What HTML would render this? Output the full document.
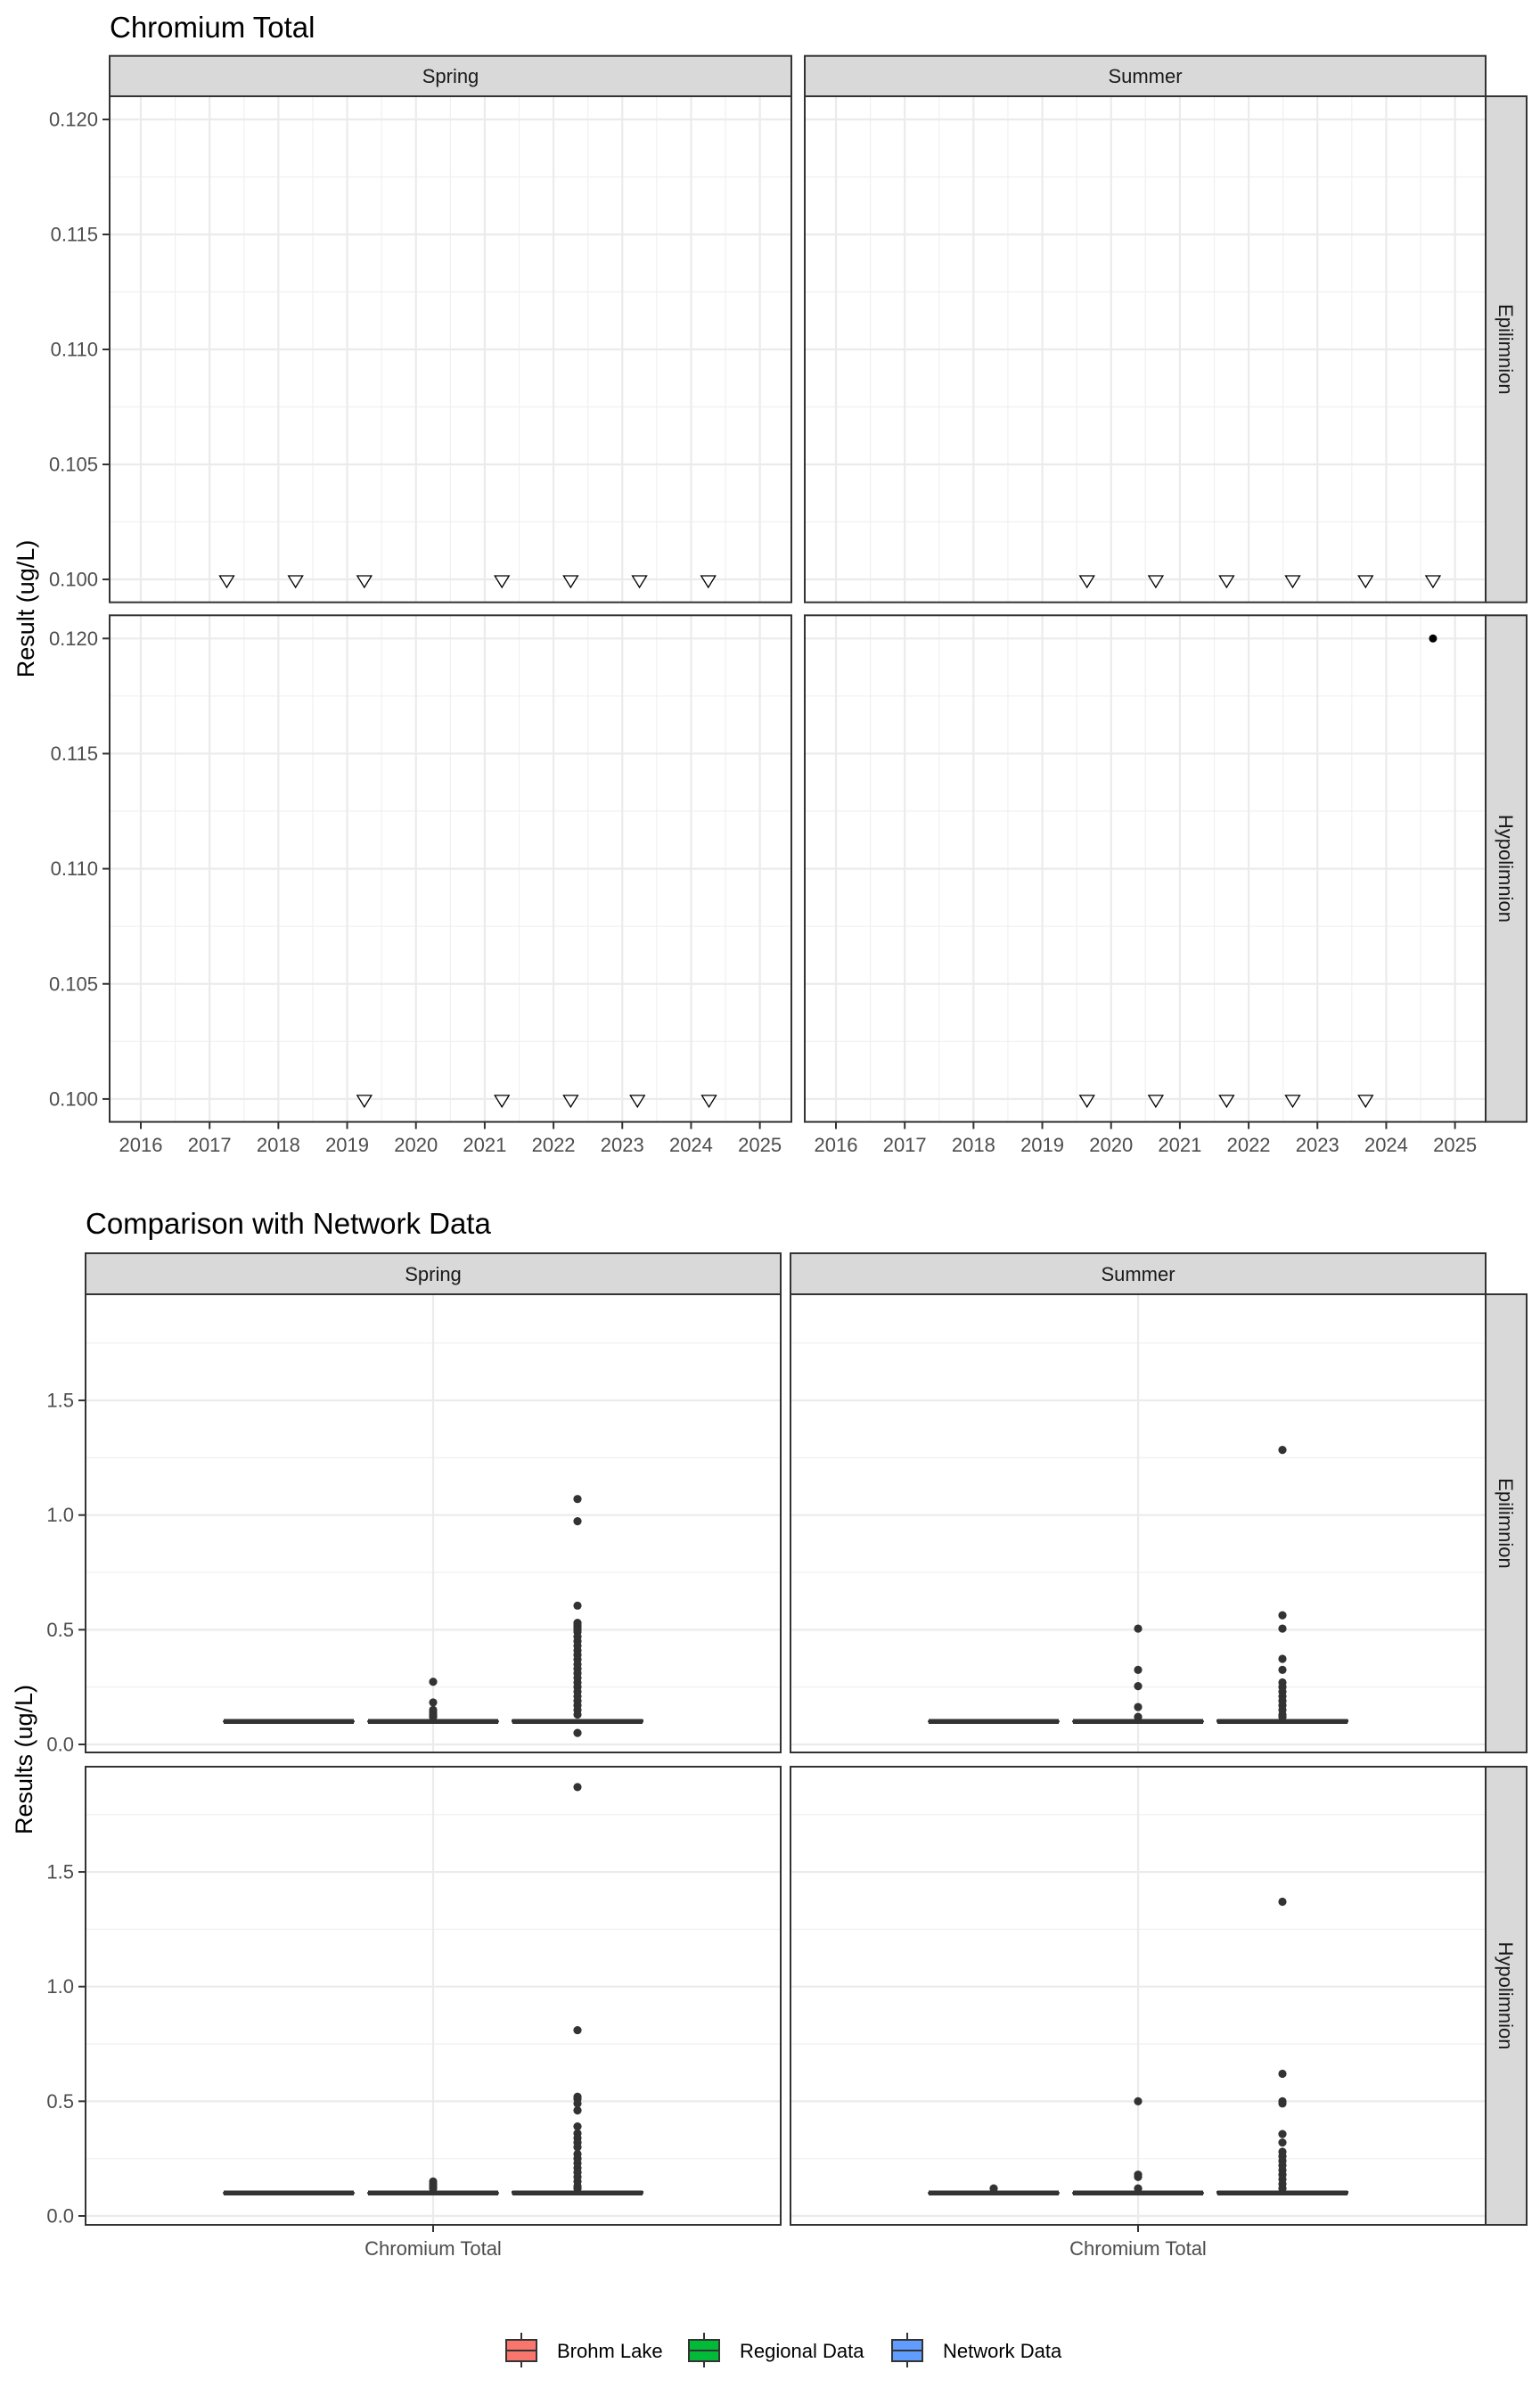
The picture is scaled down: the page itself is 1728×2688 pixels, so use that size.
<!DOCTYPE html>
<html><head><meta charset="utf-8">
<style>
html,body{margin:0;padding:0;background:#fff;}
svg{display:block;font-family:"Liberation Sans",Arial,sans-serif;}
</style></head>
<body>
<svg id="root" xmlns="http://www.w3.org/2000/svg" width="1728" height="2688" viewBox="0 0 1728 2688">
<rect x="0" y="0" width="1728" height="2688" fill="#fff"/>
<text x="123" y="42" font-size="33" fill="#000">Chromium Total</text>
<text transform="translate(38,683) rotate(-90)" text-anchor="middle" font-size="27" fill="#000">Result (ug/L)</text>
<text x="96" y="1384" font-size="33" fill="#000">Comparison with Network Data</text>
<text transform="translate(36,1974) rotate(-90)" text-anchor="middle" font-size="27" fill="#000">Results (ug/L)</text>
<g id="topg"></g>
<g id="bot"></g>
<g id="legend"></g>
</svg>
<script>
// ---------- Top chart data ----------
const yearTicks = [2016,2017,2018,2019,2020,2021,2022,2023,2024,2025];
const resultTicks = [0.100,0.105,0.110,0.115,0.120];
const resultTickLabels = ["0.100","0.105","0.110","0.115","0.120"];
const springEpiYears = [2017.25,2018.25,2019.25,2021.25,2022.25,2023.25,2024.25];
const springEpiValues = [0.1,0.1,0.1,0.1,0.1,0.1,0.1];
const summerEpiYears = [2019.65,2020.65,2021.68,2022.64,2023.70,2024.68];
const summerEpiValues = [0.1,0.1,0.1,0.1,0.1,0.1];
const springHypYears = [2019.25,2021.25,2022.25,2023.22,2024.26];
const springHypValues = [0.1,0.1,0.1,0.1,0.1];
const summerHypYears = [2019.65,2020.65,2021.68,2022.64,2023.70];
const summerHypValues = [0.1,0.1,0.1,0.1,0.1];
const summerHypDetectYears = [2024.68];
const summerHypDetectValues = [0.12];

// ---------- Bottom chart data ----------
const groups = ["Brohm Lake","Regional Data","Network Data"];
const groupColors = ["#F8766D","#00BA38","#619CFF"];
const compTicks = [0,0.5,1.0,1.5];
const compTickLabels = ["0.0","0.5","1.0","1.5"];
const boxQ1 = [0.1,0.1,0.1];
const boxMedian = [0.1,0.1,0.1];
const boxQ3 = [0.1,0.1,0.105];
const springEpiBrohm = [];
const springEpiRegional = [0.273,0.183,0.15,0.14,0.13,0.125,0.12];
const springEpiNetwork = [1.07,0.973,0.605,0.53,0.52,0.51,0.50,0.49,0.47,0.45,0.43,0.41,0.39,0.37,0.35,0.33,0.31,0.29,0.27,0.25,0.23,0.21,0.19,0.17,0.15,0.13,0.05];
const summerEpiBrohm = [];
const summerEpiRegional = [0.505,0.325,0.254,0.163,0.12];
const summerEpiNetwork = [1.284,0.563,0.505,0.373,0.325,0.27,0.25,0.23,0.21,0.19,0.17,0.15,0.13,0.12];
const springHypBrohm = [];
const springHypRegional = [0.15,0.14,0.13,0.12];
const springHypNetwork = [1.87,0.81,0.52,0.51,0.49,0.46,0.39,0.36,0.34,0.32,0.30,0.27,0.25,0.23,0.21,0.19,0.17,0.15,0.13,0.12];
const summerHypBrohm = [0.12];
const summerHypRegional = [0.50,0.18,0.17,0.12];
const summerHypNetwork = [1.37,0.62,0.50,0.49,0.357,0.32,0.28,0.26,0.24,0.22,0.20,0.18,0.16,0.14,0.12];

const NS="http://www.w3.org/2000/svg";
function mk(parent,tag,attrs,txt){const e=document.createElementNS(NS,tag);for(const k in attrs)e.setAttribute(k,attrs[k]);if(txt!==undefined)e.textContent=txt;parent.appendChild(e);return e;}

// ---------- Top chart ----------
const topChart=document.getElementById('topg');
const tCols=[{x0:123,x1:888,name:"Spring"},{x0:903,x1:1667,name:"Summer"}];
const tRows=[{y0:108,y1:675.7,name:"Epilimnion"},{y0:690.3,y1:1258.6,name:"Hypolimnion"}];
function tx(col,yr){return tCols[col].x0+35+(yr-2016)*77.18;}
function ty(row,v){const r=tRows[row];const yb=r.y1-25.7,yt=r.y0+26;return yb-(v-0.1)/(0.02)*(yb-yt);}
tCols.forEach((c,ci)=>{
  const s=mk(topChart,'rect',{x:c.x0,y:62.7,width:c.x1-c.x0,height:45.3,fill:'#d9d9d9',stroke:'#333','stroke-width':2});
  
  
  const st=mk(topChart,'text',{x:(c.x0+c.x1)/2,y:93,'text-anchor':'middle','font-size':22,fill:'#1a1a1a'},c.name);
  
  
});
tRows.forEach((r,ri)=>{
  const s=mk(topChart,'rect',{x:1667,y:r.y0,width:46,height:r.y1-r.y0,fill:'#d9d9d9',stroke:'#333','stroke-width':2});
  
  
  const cy=(r.y0+r.y1)/2;
  const st=mk(topChart,'text',{transform:`translate(1682,${cy}) rotate(90)`,'text-anchor':'middle','font-size':22,fill:'#1a1a1a'},r.name);
  
  
});
tRows.forEach((r,ri)=>{tCols.forEach((c,ci)=>{
  const g=mk(topChart,'g',{});
  
  
  mk(g,'rect',{x:c.x0,y:r.y0,width:c.x1-c.x0,height:r.y1-r.y0,fill:'#fff'});
  for(let i=0;i<resultTicks.length-1;i++){const v=(resultTicks[i]+resultTicks[i+1])/2;const y=ty(ri,v);
    const l=mk(g,'line',{x1:c.x0,x2:c.x1,y1:y,y2:y,stroke:'#f0f0f0','stroke-width':1.2});
    
    }
  for(let i=0;i<yearTicks.length;i++){const x=tx(ci,yearTicks[i]+0.5);if(x<c.x1){
    const l=mk(g,'line',{x1:x,x2:x,y1:r.y0,y2:r.y1,stroke:'#f0f0f0','stroke-width':1.2});
    
    }}
  resultTicks.forEach(v=>{const y=ty(ri,v);
    const l=mk(g,'line',{x1:c.x0,x2:c.x1,y1:y,y2:y,stroke:'#ebebeb','stroke-width':2.2});
    
    });
  yearTicks.forEach(yr=>{const x=tx(ci,yr);
    const l=mk(g,'line',{x1:x,x2:x,y1:r.y0,y2:r.y1,stroke:'#ebebeb','stroke-width':2.2});
    
    });
});});
function tri(ci,ri,yrs,vals,label){yrs.forEach((yr,i)=>{const x=tx(ci,yr),y=ty(ri,vals[i]);
  const p=mk(topChart,'polygon',{points:`${x-8},${y-4} ${x+8},${y-4} ${x},${y+9}`,fill:'#fff',stroke:'#000','stroke-width':1.3});
  
  });}
tri(0,0,springEpiYears,springEpiValues,'spring-epilimnion');
tri(1,0,summerEpiYears,summerEpiValues,'summer-epilimnion');
tri(0,1,springHypYears,springHypValues,'spring-hypolimnion');
tri(1,1,summerHypYears,summerHypValues,'summer-hypolimnion');
summerHypDetectYears.forEach((yr,i)=>{
  const c=mk(topChart,'circle',{cx:tx(1,yr),cy:ty(1,summerHypDetectValues[i]),r:4.5,fill:'#000'});
  
  });
tRows.forEach((r,ri)=>{tCols.forEach((c,ci)=>{
  const b=mk(topChart,'rect',{x:c.x0,y:r.y0,width:c.x1-c.x0,height:r.y1-r.y0,fill:'none',stroke:'#333','stroke-width':2});
  
  
});
  resultTicks.forEach((v,i)=>{const y=ty(ri,v);
    mk(topChart,'line',{x1:115,x2:123,y1:y,y2:y,stroke:'#333','stroke-width':2});
    const t=mk(topChart,'text',{x:110,y:y+7.5,'text-anchor':'end','font-size':22,fill:'#4d4d4d'},resultTickLabels[i]);
    
    });
});
tCols.forEach((c,ci)=>{yearTicks.forEach(yr=>{const x=tx(ci,yr);
  mk(topChart,'line',{x1:x,x2:x,y1:1258.6,y2:1266.6,stroke:'#333','stroke-width':2});
  const t=mk(topChart,'text',{x:x,y:1292,'text-anchor':'middle','font-size':22,fill:'#4d4d4d'},String(yr));
  
  });});

// ---------- Bottom chart ----------
const bot=document.getElementById('bot');
const bCols=[{x0:96,x1:876,name:"Spring"},{x0:887,x1:1667,name:"Summer"}];
const bRows=[{y0:1452,y1:1966,name:"Epilimnion",zero:1957},{y0:1982,y1:2496,name:"Hypolimnion",zero:2486}];
const pxPerUnit=257.3;
function by(ri,v){return bRows[ri].zero-v*pxPerUnit;}
function bx(ci,gi){const c=bCols[ci];return (c.x0+c.x1)/2+(gi-1)*162;}
const outliers=[[[springEpiBrohm,springEpiRegional,springEpiNetwork],[summerEpiBrohm,summerEpiRegional,summerEpiNetwork]],
                [[springHypBrohm,springHypRegional,springHypNetwork],[summerHypBrohm,summerHypRegional,summerHypNetwork]]];
bCols.forEach(c=>{
  const s=mk(bot,'rect',{x:c.x0,y:1406,width:c.x1-c.x0,height:46,fill:'#d9d9d9',stroke:'#333','stroke-width':2});
  
  
  const st=mk(bot,'text',{x:(c.x0+c.x1)/2,y:1437,'text-anchor':'middle','font-size':22,fill:'#1a1a1a'},c.name);
  
  
});
bRows.forEach(r=>{
  const s=mk(bot,'rect',{x:1667,y:r.y0,width:46,height:r.y1-r.y0,fill:'#d9d9d9',stroke:'#333','stroke-width':2});
  
  
  const st=mk(bot,'text',{transform:`translate(1682,${(r.y0+r.y1)/2}) rotate(90)`,'text-anchor':'middle','font-size':22,fill:'#1a1a1a'},r.name);
  
  
});
bRows.forEach((r,ri)=>{bCols.forEach((c,ci)=>{
  const g=mk(bot,'g',{});
  
  
  mk(g,'rect',{x:c.x0,y:r.y0,width:c.x1-c.x0,height:r.y1-r.y0,fill:'#fff'});
  [0.25,0.75,1.25,1.75].forEach(v=>{const y=by(ri,v);
    const l=mk(g,'line',{x1:c.x0,x2:c.x1,y1:y,y2:y,stroke:'#f0f0f0','stroke-width':1.2});
    
    });
  compTicks.forEach(v=>{const y=by(ri,v);
    const l=mk(g,'line',{x1:c.x0,x2:c.x1,y1:y,y2:y,stroke:'#ebebeb','stroke-width':2.2});
    
    });
  const cx=(c.x0+c.x1)/2;
  const vl=mk(g,'line',{x1:cx,x2:cx,y1:r.y0,y2:r.y1,stroke:'#ebebeb','stroke-width':2.2});
  
  
  groups.forEach((gn,gi)=>{
    const x=bx(ci,gi);
    const yq1=by(ri,boxQ1[gi]),yq3=by(ri,boxQ3[gi]),ym=by(ri,boxMedian[gi]);
    const bxr=mk(g,'rect',{x:x-73,y:yq3,width:146,height:Math.max(yq1-yq3,0.01),fill:groupColors[gi],stroke:'#333','stroke-width':2});
    
    
    const md=mk(g,'line',{x1:x-73,x2:x+73,y1:ym,y2:ym,stroke:'#333','stroke-width':5.5});
    
    
    if(yq1-yq3>1){const ln=mk(g,'rect',{x:x-74,y:yq3-1,width:148,height:yq1-yq3+2,fill:'#333'});
      
      }
    outliers[ri][ci][gi].forEach(v=>{
      const p=mk(g,'circle',{cx:x,cy:by(ri,v),r:4.6,fill:'#333'});
      
      });
  });
  const b=mk(g,'rect',{x:c.x0,y:r.y0,width:c.x1-c.x0,height:r.y1-r.y0,fill:'none',stroke:'#333','stroke-width':2});
  
  
});
  compTicks.forEach((v,i)=>{const y=by(ri,v);
    mk(bot,'line',{x1:88,x2:96,y1:y,y2:y,stroke:'#333','stroke-width':2});
    const t=mk(bot,'text',{x:83,y:y+7.5,'text-anchor':'end','font-size':22,fill:'#4d4d4d'},compTickLabels[i]);
    
    });
});
bCols.forEach(c=>{const x=(c.x0+c.x1)/2;
  mk(bot,'line',{x1:x,x2:x,y1:2496,y2:2504,stroke:'#333','stroke-width':2});
  const t=mk(bot,'text',{x:x,y:2530,'text-anchor':'middle','font-size':22,fill:'#4d4d4d'},'Chromium Total');
  
  });

// ---------- Legend ----------
const leg=document.getElementById('legend');
const legKeyX=[568,773,1001];
groups.forEach((gn,gi)=>{
  const g=mk(leg,'g',{});
  
  
  const x=legKeyX[gi];
  mk(g,'line',{x1:x+17,x2:x+17,y1:2617,y2:2656,stroke:'#333','stroke-width':2});
  mk(g,'rect',{x:x,y:2625,width:34,height:24,fill:groupColors[gi],stroke:'#333','stroke-width':2});
  mk(g,'line',{x1:x,x2:x+34,y1:2637,y2:2637,stroke:'#333','stroke-width':2});
  mk(g,'text',{x:x+57,y:2645,'font-size':22,fill:'#000'},gn);
});
</script>
</body></html>
